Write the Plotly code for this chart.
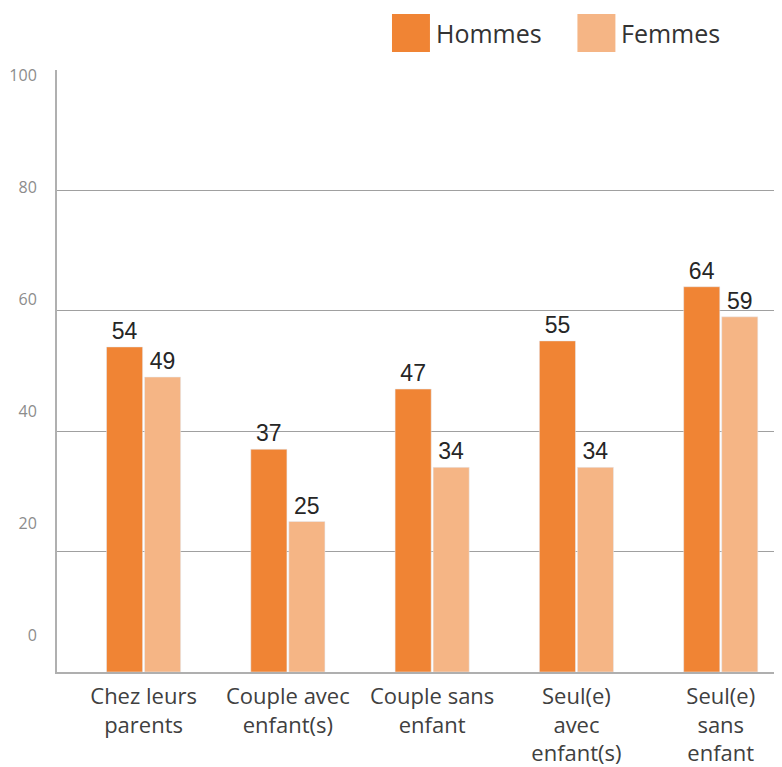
import plotly.graph_objects as go

categories = ["Chez leurs<br>parents", "Couple avec<br>enfant(s)", "Couple sans<br>enfant",
              "Seul(e)<br>avec<br>enfant(s)", "Seul(e)<br>sans<br>enfant"]
hommes = [54, 37, 47, 55, 64]
femmes = [49, 25, 34, 34, 59]
series_names = ["Hommes", "Femmes"]
colors = ["#F08434", "#F5B585"]
y_ticks = [0, 20, 40, 60, 80, 100]

fig = go.Figure()
for name, vals, col in zip(series_names, [hommes, femmes], colors):
    fig.add_trace(go.Bar(
        x=list(range(len(categories))), y=vals, name=name, marker_color=col,
        text=[str(v) for v in vals], textposition="outside", cliponaxis=False,
        textfont=dict(family="Liberation Sans, Arial", size=23, color="#262626"),
        showlegend=False,
    ))
# invisible trace to host the label axis
fig.add_trace(go.Scatter(x=[], y=[], yaxis="y2", showlegend=False, hoverinfo="skip"))

# legend drawn as shapes + text (plot width 733 px)
leg_x = [0.457, 0.710]
for name, col, lx in zip(series_names, colors, leg_x):
    fig.add_shape(type="rect", xref="paper", yref="paper", x0=lx, x1=lx + 0.0518,
                  y0=1.030, y1=1.093, fillcolor=col, line_width=0)
    fig.add_annotation(xref="paper", yref="paper", x=lx + 0.057, y=1.0615, text=name,
                       showarrow=False, xanchor="left", yanchor="middle",
                       font=dict(family="Open Sans", size=25, color="#333333"))

fig.update_layout(
    width=782, height=759,
    margin=dict(l=49, r=0, t=62, b=95, autoexpand=False),
    plot_bgcolor="white", paper_bgcolor="white",
    barmode="group", bargap=0.473, bargroupgap=0.05,
    xaxis=dict(range=[-0.6, 4.48], tickvals=list(range(len(categories))), ticktext=categories,
               showgrid=False, showline=True, linecolor="#AFAFAF", linewidth=1.5,
               tickfont=dict(family="Open Sans", size=22, color="#404040"),
               ticks="outside", ticklen=4, tickcolor="white", zeroline=False,
               automargin=False),
    yaxis=dict(range=[0, 100], tickvals=y_ticks, showticklabels=False, showgrid=True,
               gridcolor="#A0A0A0", gridwidth=1.2, showline=True, linecolor="#B0B0B0",
               linewidth=1.5, zeroline=False, automargin=False),
    yaxis2=dict(range=[-6.6, 100.9], overlaying="y", side="left", anchor="x",
                tickvals=y_ticks, showgrid=False, zeroline=False, showline=False,
                ticks="outside", ticklen=16, tickcolor="rgba(0,0,0,0)", automargin=False,
                tickfont=dict(family="Open Sans", size=16, color="#8C8C8C")),
)

fig.write_html("out.html")
